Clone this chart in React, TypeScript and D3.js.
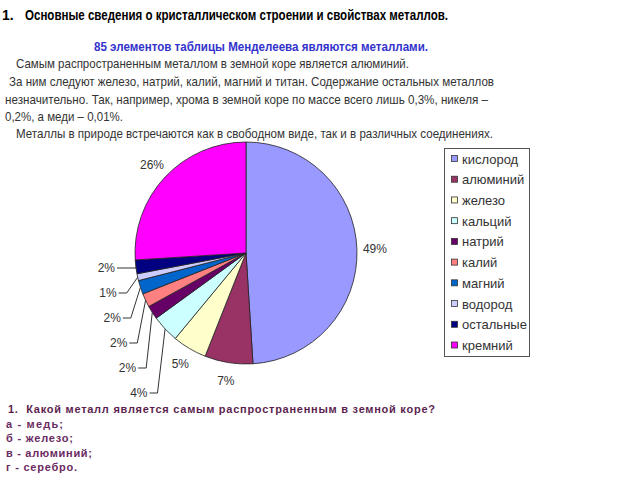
import React from 'react'
import * as d3 from 'd3'

const elements = ['кислород', 'алюминий', 'железо', 'кальций', 'натрий', 'калий', 'магний', 'водород', 'остальные', 'кремний']
const percents = [49, 7, 5, 4, 2, 2, 2, 1, 2, 26]
const colors = ['#9999ff', '#993366', '#ffffcc', '#ccffff', '#660066', '#ff8080', '#0066cc', '#ccccff', '#000080', '#ff00ff']

const paragraph = [
  'Самым распространенным металлом в земной коре является алюминий.',
  'За ним следуют железо, натрий, калий, магний и титан. Содержание остальных металлов',
  'незначительно. Так, например, хрома в земной коре по массе всего лишь 0,3%, никеля –',
  '0,2%, а меди – 0,01%.',
  'Металлы в природе встречаются как в свободном виде, так и в различных соединениях.',
]
const answers = ['а - медь;', 'б - железо;', 'в - алюминий;', 'г - серебро.']

const font = 'Arial, "Liberation Sans", sans-serif'

// x start, baseline, width of each paragraph line as seen on the slide
const paraLayout = [
  [16, 68, 393],
  [9, 86, 485],
  [5, 103.5, 483],
  [5, 121, 118],
  [16, 138, 477],
]
const answerWidths = [57, 67, 86, 71]

export default function App() {
  const cx = 246
  const cy = 253
  const r = 111

  const rows = elements.map((name, i) => ({ name, value: percents[i], color: colors[i] }))
  const pie = d3.pie<any>().value((d) => d.value).sort(null)
  const arcs = pie(rows)
  const arc = d3.arc<any>().innerRadius(0).outerRadius(r)
  const labelArc = d3.arc<any>().innerRadius(129).outerRadius(129)

  // small slices get stacked labels on the left with leader lines
  const smallIdx = [8, 7, 6, 5, 4, 3]
  const bigIdx = [0, 1, 2, 9]

  const legendY = d3.scalePoint<string>().domain(elements).range([159, 345.5])

  return (
    <svg width={640} height={480} style={{ position: 'absolute', left: 0, top: 0, background: '#fff' }} fontFamily={font}>
      <text x={2} y={20} fontSize={14} fontWeight="bold" fill="#000">1.</text>
      <text x={25} y={20} fontSize={14} fontWeight="bold" fill="#000" textLength={423} lengthAdjust="spacingAndGlyphs">
        Основные сведения о кристаллическом строении и свойствах металлов.
      </text>
      <text x={94} y={51} fontSize={13} fontWeight="bold" fill="#3333cc" textLength={334} lengthAdjust="spacingAndGlyphs">
        85 элементов таблицы Менделеева являются металлами.
      </text>
      {paragraph.map((line, i) => (
        <text key={i} x={paraLayout[i][0]} y={paraLayout[i][1]} fontSize={13} fill="#333"
          textLength={paraLayout[i][2]} lengthAdjust="spacingAndGlyphs">
          {line}
        </text>
      ))}

      <g transform={`translate(${cx},${cy})`}>
        {arcs.map((a, i) => (
          <path key={i} d={arc(a) as string} fill={a.data.color} stroke="#222" strokeWidth={0.8} />
        ))}
        {bigIdx.map((i) => {
          const [x, y] = labelArc.centroid(arcs[i])
          return (
            <text key={i} x={x} y={y} dy="0.35em" fontSize={12} fill="#333" textAnchor="middle">
              {percents[i]}%
            </text>
          )
        })}
      </g>

      {smallIdx.map((i, k) => {
        const y = 268 + k * 25
        const xr = 115 + 1.2 * k * k + 0.5 * k
        const mid = (arcs[i].startAngle + arcs[i].endAngle) / 2
        const ex = cx + r * Math.sin(mid)
        const ey = cy - r * Math.cos(mid)
        const elbow = k === 0 ? ex : xr + 10
        return (
          <g key={i}>
            <text x={xr} y={y} dy="0.35em" fontSize={12} fill="#333" textAnchor="end">
              {percents[i]}%
            </text>
            <path d={`M${xr + 2},${y}H${elbow}L${ex},${ey}`} fill="none" stroke="#333" strokeWidth={1} />
          </g>
        )
      })}

      <rect x={444.5} y={148.5} width={85} height={208} fill="#fff" stroke="#555" strokeWidth={1} />
      {rows.map((d) => (
        <g key={d.name}>
          <rect x={451.5} y={(legendY(d.name) as number) - 3.5} width={6} height={6} fill={d.color} stroke="#333" strokeWidth={0.8} />
          <text x={462} y={legendY(d.name)} dy="0.35em" fontSize={13} fill="#333">
            {d.name}
          </text>
        </g>
      ))}

      <text x={8} y={413} fontSize={11} fontWeight="bold" fill="#5c1f50" textLength={427} lengthAdjust="spacing" style={{ whiteSpace: 'pre' }}>
        {'1.  Какой металл является самым распространенным в земной коре?'}
      </text>
      {answers.map((a, i) => (
        <text key={a} x={6} y={427.5 + i * 14.5} fontSize={11} fontWeight="bold" fill="#6a2a62"
          textLength={answerWidths[i]} lengthAdjust="spacing">
          {a}
        </text>
      ))}
    </svg>
  )
}
